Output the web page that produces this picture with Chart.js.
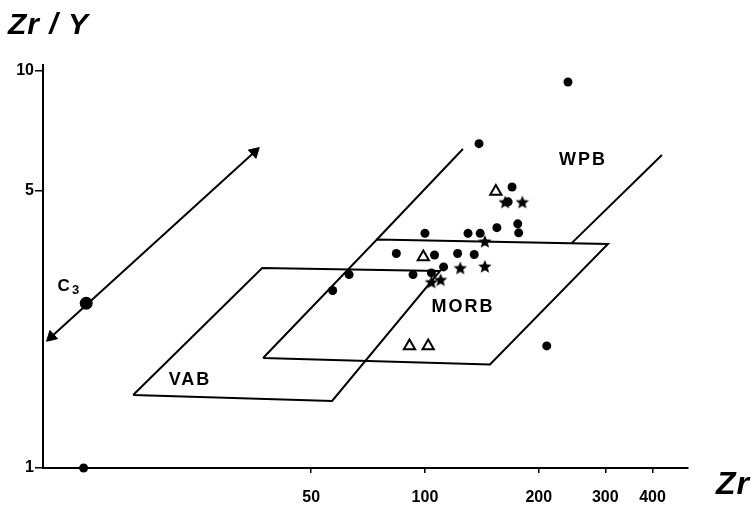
<!DOCTYPE html>
<html>
<head>
<meta charset="utf-8">
<script src="https://cdn.jsdelivr.net/npm/chart.js@4/dist/chart.umd.min.js"></script>
<style>
  html, body { margin: 0; padding: 0; background: #fff; }
  canvas { display: block; }
</style>
</head>
<body>
<canvas id="c" width="754" height="516"></canvas>
<script>
// Zr/Y vs Zr discrimination diagram (log-log)
const xTicks = [50, 100, 200, 300, 400];
const yTicks = [1, 5, 10];

// sample points
const circleZr    = [139, 170, 166, 100, 130, 140, 155, 176, 177, 84, 106, 122, 135, 112, 104, 93, 63, 57, 210, 239, 12.5];
const circleRatio = [6.56, 5.10, 4.68, 3.90, 3.90, 3.90, 4.03, 4.12, 3.91, 3.47, 3.44, 3.47, 3.45, 3.21, 3.10, 3.07, 3.07, 2.80, 2.03, 9.38, 1.0];
const triZr       = [154, 99, 91, 102, 681];
const triRatio    = [4.97, 3.40, 2.03, 2.03, 4.46];
const starZr      = [163, 181, 144, 124, 144, 104, 110];
const starRatio   = [4.66, 4.66, 3.71, 3.18, 3.21, 2.93, 2.97];
const c3Zr = [12.7];
const c3Ratio = [2.60];

// field boundaries
const vabZr     = [16.9, 56.8, 109.6, 37.1, 16.9];
const vabRatio  = [1.527, 1.475, 3.135, 3.19, 1.527];
const morbZr    = [37.3, 148.6, 304.9, 74.6, 37.3];
const morbRatio = [1.893, 1.823, 3.667, 3.763, 1.893];
const wpbLeftZr     = [74.6, 126.0];
const wpbLeftRatio  = [3.763, 6.36];
const wpbRightZr    = [244.8, 423.6];
const wpbRightRatio = [3.69, 6.14];
const arrowZr    = [10.27, 35.4];
const arrowRatio = [2.14, 6.25];

const fieldNames = ['VAB', 'MORB', 'WPB'];
const fieldLabelZr = [23.9, 126, 262];
const fieldLabelRatio = [1.666, 2.545, 5.97];

const toPoints = (xs, ys) => xs.map((v, i) => ({ x: v, y: ys[i] }));
const FONT = '"Liberation Sans", Arial, Helvetica, sans-serif';

function makeStar(r) {
    const c = document.createElement('canvas');
    const s = Math.ceil(r * 2 + 2);
    c.width = s; c.height = s;
    const g = c.getContext('2d');
    g.fillStyle = '#000';
    g.beginPath();
    for (let i = 0; i < 10; i++) {
        const a = -Math.PI / 2 + i * Math.PI / 5;
        const rr = i % 2 ? r * 0.45 : r;
        g.lineTo(s / 2 + rr * Math.cos(a), s / 2 + rr * Math.sin(a));
    }
    g.closePath();
    g.fill();
    return c;
}

function lineSet(xs, ys) {
    return {
        data: toPoints(xs, ys), showLine: true, borderColor: '#000', borderWidth: 2,
        pointRadius: 0, fill: false, clip: false, tension: 0
    };
}

// text labels (axis titles, field names, C3)
const annotate = {
    id: 'annotate',
    afterDraw(chart) {
        const { ctx, scales: { x, y } } = chart;
        ctx.save();
        ctx.fillStyle = '#000';
        ctx.textBaseline = 'alphabetic';
        ctx.textAlign = 'left';
        ctx.font = 'italic bold 30px ' + FONT;
        ctx.letterSpacing = '1px';
        ctx.fillText('Zr / Y', 8, 34);
        ctx.font = 'italic bold 32px ' + FONT;
        ctx.fillText('Zr', 716, 494);

        ctx.font = 'bold 18px ' + FONT;
        ctx.textAlign = 'center';
        ctx.textBaseline = 'middle';
        ctx.letterSpacing = '2px';
        fieldNames.forEach((name, i) => {
            ctx.fillText(name, x.getPixelForValue(fieldLabelZr[i]), y.getPixelForValue(fieldLabelRatio[i]));
        });
        ctx.letterSpacing = '0px';

        const cx = x.getPixelForValue(11.2), cy = y.getPixelForValue(2.84);
        ctx.font = 'bold 17px ' + FONT;
        ctx.fillText('C', cx - 2, cy - 2);
        ctx.font = 'bold 13px ' + FONT;
        ctx.fillText('3', cx + 10, cy + 2);
        ctx.restore();
    }
};

new Chart(document.getElementById('c'), {
    type: 'scatter',
    data: {
        datasets: [
            lineSet(vabZr, vabRatio),
            lineSet(morbZr, morbRatio),
            lineSet(wpbLeftZr, wpbLeftRatio),
            lineSet(wpbRightZr, wpbRightRatio),
            Object.assign(lineSet(arrowZr, arrowRatio), {
                pointStyle: 'triangle', pointRadius: 6.5, pointRotation: [227, 47],
                pointBackgroundColor: '#000', pointBorderColor: '#000', pointBorderWidth: 1
            }),
            {
                data: toPoints(circleZr, circleRatio), pointStyle: 'circle', pointRadius: 4.5,
                pointBackgroundColor: '#000', pointBorderColor: '#000', pointBorderWidth: 0, clip: false
            },
            {
                data: toPoints(c3Zr, c3Ratio), pointStyle: 'circle', pointRadius: 6.5,
                pointBackgroundColor: '#000', pointBorderColor: '#000', pointBorderWidth: 0, clip: false
            },
            {
                data: toPoints(triZr, triRatio), pointStyle: 'triangle', pointRadius: 6.5,
                pointBackgroundColor: '#fff', pointBorderColor: '#000', pointBorderWidth: 2, clip: false
            },
            {
                data: toPoints(starZr, starRatio), pointStyle: makeStar(7), clip: false
            }
        ]
    },
    options: {
        responsive: false,
        animation: false,
        layout: { padding: { left: 0, top: 65, right: 66, bottom: 0 } },
        plugins: { legend: { display: false }, tooltip: { enabled: false } },
        scales: {
            x: {
                type: 'logarithmic',
                min: 9.76,
                max: 496.5,
                afterBuildTicks: axis => { axis.ticks = xTicks.map(v => ({ value: v })); },
                afterFit: scale => { scale.height = 48; scale.paddingLeft = 0; scale.paddingRight = 0; },
                border: { display: true, color: '#000', width: 2 },
                grid: { drawOnChartArea: false, color: '#000', tickLength: 5, lineWidth: 1.5 },
                ticks: {
                    autoSkip: false, maxRotation: 0, color: '#000', padding: 15,
                    font: { family: FONT, size: 16, weight: 'bold' },
                    callback: v => String(v)
                }
            },
            y: {
                type: 'logarithmic',
                min: 1,
                max: 10.35,
                afterBuildTicks: axis => { axis.ticks = yTicks.map(v => ({ value: v })); },
                afterFit: scale => { scale.width = 43; scale.paddingTop = 0; scale.paddingBottom = 0; },
                border: { display: true, color: '#000', width: 2 },
                grid: { drawOnChartArea: false, color: '#000', tickLength: 8, lineWidth: 1.5 },
                ticks: {
                    autoSkip: false, color: '#000', padding: 1,
                    font: { family: FONT, size: 16, weight: 'bold' },
                    callback: v => String(v)
                }
            }
        }
    },
    plugins: [annotate]
});
</script>
</body>
</html>
